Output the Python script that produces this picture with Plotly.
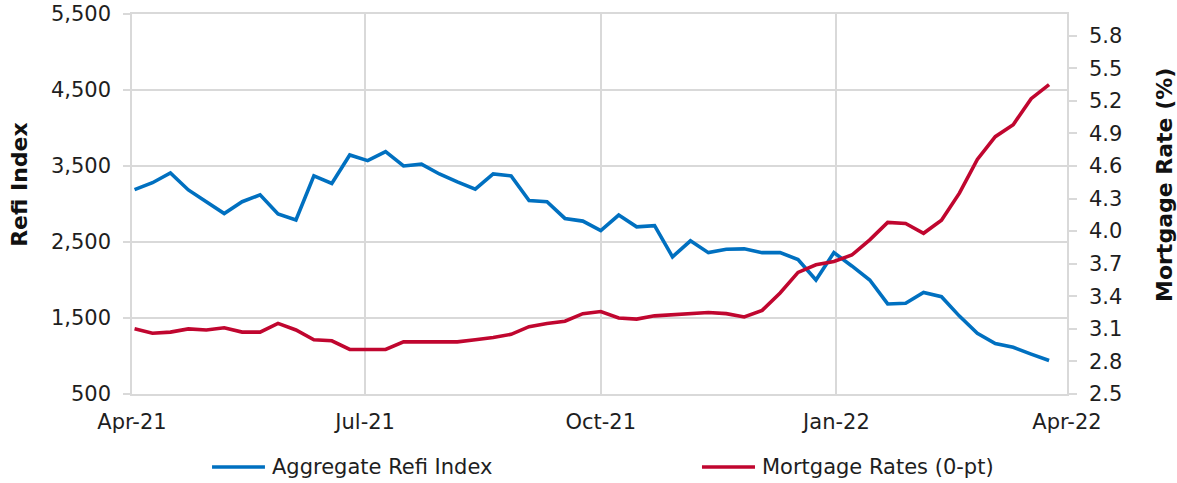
import pandas as pd
import plotly.graph_objects as go

# weekly observations, Apr-2021 .. Mar-2022
weeks = pd.date_range('2021-04-02', periods=52, freq='7D')

refi_index = [3190, 3280, 3410, 3185, 3030, 2875, 3030, 3120, 2870, 2790,
              3370, 3270, 3645, 3570, 3690, 3500, 3525, 3395, 3290, 3195,
              3395, 3370, 3045, 3030, 2810, 2775, 2650, 2855, 2700, 2715,
              2305, 2515, 2360, 2405, 2410, 2360, 2360, 2270, 2000, 2360,
              2185, 2000, 1685, 1695, 1835, 1780, 1525, 1300, 1165, 1115,
              1025, 940]

mortgage_rate = [3.10, 3.06, 3.07, 3.10, 3.09, 3.11, 3.07, 3.07, 3.15, 3.09,
                 3.00, 2.99, 2.91, 2.91, 2.91, 2.98, 2.98, 2.98, 2.98, 3.00,
                 3.02, 3.05, 3.12, 3.15, 3.17, 3.24, 3.26, 3.20, 3.19, 3.22,
                 3.23, 3.24, 3.25, 3.24, 3.21, 3.27, 3.43, 3.62, 3.69, 3.72,
                 3.78, 3.92, 4.08, 4.07, 3.98, 4.10, 4.35, 4.66, 4.87, 4.98,
                 5.22, 5.35]

x_tickvals = ['2021-04-01', '2021-07-01', '2021-10-01', '2022-01-01', '2022-04-01']
x_ticktext = ['Apr-21', 'Jul-21', 'Oct-21', 'Jan-22', 'Apr-22']

BLUE = '#0070C0'
RED = '#C0062F'
GRID = '#D9D9D9'
FONT = 'DejaVu Sans'
TXT = '#1e1e1e'
LW = 3.6

fig = go.Figure()
fig.add_trace(go.Scatter(x=weeks, y=refi_index, name='Aggregate Refi Index',
                         mode='lines', line=dict(color=BLUE, width=LW),
                         showlegend=False))
fig.add_trace(go.Scatter(x=weeks, y=mortgage_rate, name='Mortgage Rates (0-pt)',
                         mode='lines', line=dict(color=RED, width=LW),
                         yaxis='y2', showlegend=False))

fig.update_layout(
    width=1177, height=483,
    margin=dict(l=132, r=110, t=14, b=89),
    paper_bgcolor='white', plot_bgcolor='white',
    font=dict(family=FONT, size=21, color=TXT),
    xaxis=dict(
        type='date', range=['2021-04-01', '2022-04-01'],
        tickvals=x_tickvals, ticktext=x_ticktext, automargin=False,
        showgrid=True, gridcolor=GRID, gridwidth=1.5,
        showline=True, linecolor=GRID, linewidth=1.5, mirror=True,
        ticks='', ticklabelstandoff=8, ticklabeloverflow='allow',
    ),
    yaxis=dict(
        range=[500, 5500], tick0=500, dtick=1000, tickformat=',',
        automargin=False, ticklabeloverflow='allow',
        showgrid=True, gridcolor=GRID, gridwidth=1.5,
        showline=True, linecolor=GRID, linewidth=1.5,
        ticks='outside', ticklen=7, tickcolor=GRID, tickwidth=1.5,
        ticklabelstandoff=8, zeroline=False,
    ),
    yaxis2=dict(
        overlaying='y', side='right', automargin=False,
        range=[2.5, 6.0], tick0=2.5, dtick=0.3, tickformat='.1f',
        showgrid=False, ticklabeloverflow='allow',
        showline=True, linecolor=GRID, linewidth=1.5,
        ticks='outside', ticklen=8, tickcolor=GRID, tickwidth=1.5,
        ticklabelstandoff=8, zeroline=False,
    ),
)

# axis titles
fig.add_annotation(text='<b>Refi Index</b>', xref='paper', yref='paper',
                   x=-0.1198, y=0.553, textangle=-90, showarrow=False,
                   xanchor='center', yanchor='middle',
                   font=dict(size=22, color='#111111'))
fig.add_annotation(text='<b>Mortgage Rate (%)</b>', xref='paper', yref='paper',
                   x=1.1048, y=0.55, textangle=-90, showarrow=False,
                   xanchor='center', yanchor='middle',
                   font=dict(size=22, color='#111111'))

# legend drawn below the plot
legend_items = [('Aggregate Refi Index', BLUE, 0.0856, 0.1422),
                ('Mortgage Rates (0-pt)', RED, 0.6096, 0.6663)]
for label, color, x0, x1 in legend_items:
    fig.add_shape(type='line', xref='paper', yref='paper',
                  x0=x0, x1=x1, y0=-0.192, y1=-0.192,
                  line=dict(color=color, width=LW))
    fig.add_annotation(text=label, xref='paper', yref='paper',
                       x=x1 + 0.0054, y=-0.192, xanchor='left',
                       yanchor='middle', showarrow=False,
                       font=dict(size=21, color=TXT))

# drop the default page margin so the figure fills the window
fig.write_html('out.html', config={'displayModeBar': False},
               post_script="document.body.style.margin = '0';")
